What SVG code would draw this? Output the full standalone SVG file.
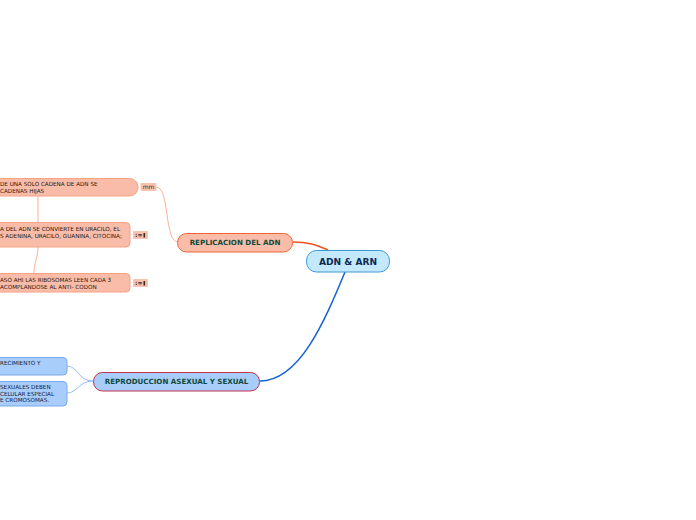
<svg xmlns="http://www.w3.org/2000/svg" width="696" height="520" viewBox="0 0 696 520">
<style>
.t{font-family:"DejaVu Sans",Verdana,sans-serif;}
.main{font-size:9.1px;font-weight:bold;fill:#0d2a55;}
.sub{font-size:7.1px;font-weight:bold;fill:#0e4a3a;}
.leaf{font-size:5.65px;fill:#2a1a10;}
.lb{font-size:5.65px;fill:#10203a;}
.tagt{font-size:6px;fill:#3a2418;}
.rnode{fill:#f9bca9;stroke:#f4a283;stroke-width:1;}
.bnode{fill:#a9cdfa;stroke:#7aa9ea;stroke-width:1;}
.tag{fill:#f9c2b0;}
</style>
<rect width="696" height="520" fill="#ffffff"/>
<g id="connectors" fill="none">
<path d="M293,242 C310,242 318,246 328,250" stroke="#f0531e" stroke-width="1.6"/>
<path d="M345,272 C325,320 300,381 260,381" stroke="#1463d4" stroke-width="1.5"/>
<path d="M156,187 C170,187 164,242 178,242" stroke="#f6a88f" stroke-width="0.9"/>
<path d="M38,196 L38,222" stroke="#f6a88f" stroke-width="0.9"/>
<path d="M38,247 C38,258 34,262 34,273" stroke="#f6a88f" stroke-width="0.9"/>
<path d="M93,381 C78,381 78,366 67,366" stroke="#8db6ee" stroke-width="0.9"/>
<path d="M93,381 C78,381 78,393 67,393" stroke="#8db6ee" stroke-width="0.9"/>
</g>
<g id="root">
<rect x="306.5" y="250.5" width="83" height="21.5" rx="10" fill="#c5e9fc" stroke="#3d9ad8" stroke-width="1"/>
<text class="t main" x="348" y="264.5" text-anchor="middle">ADN &amp; ARN</text>
</g>
<g id="replicacion">
<rect x="177.5" y="233.5" width="115" height="18.5" rx="9" fill="#f9bca9" stroke="#f06538" stroke-width="1"/>
<text class="t sub" x="235" y="245.2" text-anchor="middle">REPLICACION DEL ADN</text>
</g>
<g id="reproduccion">
<rect x="93.5" y="372.5" width="166" height="18.5" rx="9" fill="#a9cdfa" stroke="#c3304c" stroke-width="1"/>
<text class="t sub" x="176.5" y="384.2" text-anchor="middle">REPRODUCCION ASEXUAL Y SEXUAL</text>
</g>
<g id="rep1">
<rect class="rnode" x="-10" y="178.5" width="148" height="17.5" rx="8.5"/>
<text class="t leaf" x="0" y="186">DE UNA SOLO CADENA DE ADN SE</text>
<text class="t leaf" x="0" y="192.5">CADENAS HIJAS</text>
<rect class="tag" x="140.5" y="183" width="16" height="8" rx="1"/>
<text class="t tagt" x="148.5" y="189.3" text-anchor="middle">mm</text>
</g>
<g id="rep2">
<rect class="rnode" x="-10" y="222.5" width="140" height="24.5" rx="4"/>
<text class="t leaf" x="0" y="231">A DEL ADN SE CONVIERTE EN URACILO, EL</text>
<text class="t leaf" x="0" y="237.5">S ADENINA, URACILO, GUANINA, CITOCINA;</text>
<rect class="tag" x="133" y="231" width="15" height="8" rx="1"/>
<text class="t tagt" x="135" y="237.3" font-weight="bold">:=</text>
<rect x="143.5" y="233" width="1.6" height="4.5" fill="#3a2418"/>
</g>
<g id="rep3">
<rect class="rnode" x="-10" y="273.5" width="140" height="18.5" rx="4"/>
<text class="t leaf" x="0" y="282">ASO AHI LAS RIBOSOMAS LEEN CADA 3</text>
<text class="t leaf" x="0" y="288.5">ACOMPLANDOSE AL ANTI- CODON</text>
<rect class="tag" x="133" y="279" width="15" height="8" rx="1"/>
<text class="t tagt" x="135" y="285.3" font-weight="bold">:=</text>
<rect x="143.5" y="281" width="1.6" height="4.5" fill="#3a2418"/>
</g>
<g id="repro1">
<rect class="bnode" x="-10" y="357.5" width="77" height="17.5" rx="4"/>
<text class="t lb" x="0" y="365">RECIMIENTO Y</text>
</g>
<g id="repro2">
<rect class="bnode" x="-10" y="381.5" width="77" height="24.5" rx="4"/>
<text class="t lb" x="0" y="389">SEXUALES DEBEN</text>
<text class="t lb" x="0" y="395.5">CELULAR ESPECIAL</text>
<text class="t lb" x="0" y="402">E CROMOSOMAS.</text>
</g>
</svg>
